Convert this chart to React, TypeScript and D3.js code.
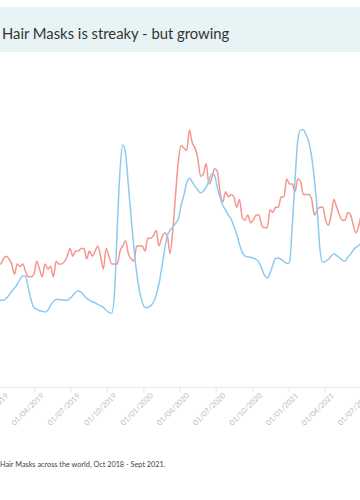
import { useRef, useEffect } from 'react';
import * as d3 from 'd3';

const W = 360;
const H = 500;

const TITLE = 'Hair Masks is streaky - but growing';
const CAPTION = 'Hair Masks across the world, Oct 2018 - Sept 2021.';

// weekly points (Sundays), visible window only
const weekStart = new Date(2018, 11, 30);
const weekEnd = new Date(2021, 6, 5);

// salmon line: search interest, weekly
const redValues = [
  48, 48, 50, 51, 50, 48, 44, 48, 47, 48,
  45, 43, 43, 44, 49, 46, 43, 48, 46, 47,
  43, 49, 48, 48, 49, 51, 54, 51, 53, 53,
  54, 54, 50, 53, 51, 53, 55, 51, 46, 54,
  51, 48, 48, 48, 53, 55, 57, 52, 50, 49,
  55, 55, 55, 53, 58, 58, 59, 61, 55, 58,
  60, 59, 52, 61, 75, 88, 94, 93, 92, 100,
  95, 93, 89, 82, 83, 87, 79, 81, 85, 84,
  76, 72, 76, 74, 75, 74, 70, 73, 66, 65,
  67, 64, 65, 67, 67, 63, 62, 62, 69, 68,
  70, 70, 74, 74, 81, 79, 79, 76, 81, 80,
  75, 75, 75, 73, 67, 69, 70, 70, 65, 63,
  67, 73, 70, 67, 65, 65, 68, 67, 63, 60,
  63, 68,
];

// blue line: smoothed, weekly
const blueValues = [
  33.1, 33.9, 33.9, 34.6, 35.8, 37.4, 38.5, 40.1, 42.0, 43.4,
  43.2, 38.5, 33.9, 31.1, 30.4, 29.8, 29.6, 29.3, 30.0, 31.9,
  33.3, 34.2, 34.2, 34.1, 33.9, 33.9, 34.6, 35.8, 37.0, 37.5,
  37.0, 35.8, 34.6, 33.9, 33.3, 32.9, 32.3, 31.7, 31.1, 30.0,
  29.2, 28.8, 36.6, 61.9, 84.4, 94.2, 90.7, 78.6, 66.1, 54.1,
  44.4, 37.4, 33.1, 31.1, 31.1, 31.7, 33.1, 35.8, 40.1, 46.3,
  53.3, 58.8, 61.1, 62.3, 63.8, 65.4, 70.8, 74.7, 79.4, 81.3,
  79.8, 78.2, 76.7, 75.5, 76.3, 77.8, 80.2, 82.9, 82.5, 77.8,
  73.9, 70.8, 68.9, 66.9, 65.4, 62.6, 59.5, 55.6, 52.5, 51.0,
  50.7, 50.6, 50.2, 49.8, 48.6, 46.3, 43.6, 42.5, 44.4, 47.5,
  50.2, 50.2, 49.8, 49.0, 48.2, 48.6, 62.6, 80.5, 96.1, 100,
  100, 98.1, 95.3, 89.5, 80.5, 68.9, 53.3, 48.6, 49.0, 49.8,
  51.0, 51.8, 51.2, 50.4, 49.4, 49.0, 50.6, 51.8, 53.3, 54.5,
  55.3, 56.0,
];

export default function App() {
  const svgRef = useRef<SVGSVGElement>(null);

  useEffect(() => {
    if (!svgRef.current) return;
    const svg = d3.select(svgRef.current);
    svg.selectAll('*').remove();

    const weeks = d3.timeWeek.range(weekStart, weekEnd);

    const x = d3
      .scaleTime()
      .domain([new Date(2019, 0, 1), new Date(2021, 6, 1)])
      .range([-1.4, 360.5]);
    const y = d3.scaleLinear().domain([0, 100]).range([387.5, 130]);

    // title banner
    svg.append('rect')
      .attr('x', 0)
      .attr('y', 7)
      .attr('width', W)
      .attr('height', 45)
      .attr('fill', '#e8f3f5');
    svg.append('text')
      .attr('x', 2)
      .attr('y', 39)
      .attr('font-family', 'Lato, sans-serif')
      .attr('font-size', 14.8)
      .attr('fill', '#333')
      .text(TITLE);

    // x axis
    const ticks = d3.timeMonth.range(new Date(2019, 0, 1), new Date(2021, 6, 2), 3);
    const axis = svg.append('g')
      .attr('transform', `translate(0,${y(0)})`)
      .call(d3.axisBottom(x).tickValues(ticks).tickSize(5).tickFormat(d3.timeFormat('%d/%m/%Y') as any));
    axis.select('.domain').remove();
    axis.selectAll('line').attr('stroke', '#e6e6e6');
    axis.selectAll('text')
      .attr('fill', '#bdbdbd')
      .attr('font-family', 'Lato, sans-serif')
      .attr('font-size', 7.6)
      .attr('text-anchor', 'end')
      .attr('dy', 0)
      .attr('transform', 'translate(4,3) rotate(-45)');
    svg.append('line')
      .attr('x1', 0)
      .attr('x2', W)
      .attr('y1', y(0))
      .attr('y2', y(0))
      .attr('stroke', '#e6e6e6');

    const line = (vals: number[]) =>
      d3.line<number>()
        .x((_, i) => x(weeks[i]))
        .y((d) => y(d))
        .curve(d3.curveMonotoneX)(vals);

    svg.append('path')
      .attr('d', line(redValues))
      .attr('fill', 'none')
      .attr('stroke', '#f4968d')
      .attr('stroke-width', 1.5);

    svg.append('path')
      .attr('d', line(blueValues))
      .attr('fill', 'none')
      .attr('stroke', '#8ecbf0')
      .attr('stroke-width', 1.5);

    svg.append('text')
      .attr('x', 0)
      .attr('y', 467)
      .attr('font-family', 'Lato, sans-serif')
      .attr('font-size', 7.3)
      .attr('fill', '#444')
      .text(CAPTION);
  }, []);

  return (
    <div style={{ position: 'absolute', left: 0, top: 0, width: W, height: H, background: '#fff' }}>
      <svg ref={svgRef} width={W} height={H} style={{ display: 'block' }} />
    </div>
  );
}
